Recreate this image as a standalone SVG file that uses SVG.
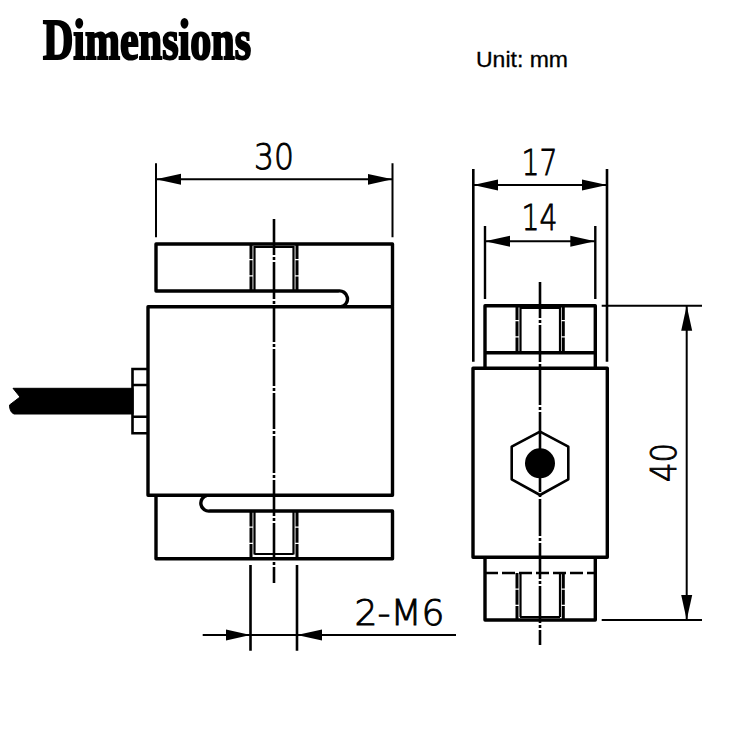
<svg xmlns="http://www.w3.org/2000/svg" width="750" height="750" viewBox="0 0 750 750">
<style>
.o{fill:none;stroke:#000;stroke-width:3.4;stroke-linejoin:round;stroke-linecap:round}
.t{fill:none;stroke:#000;stroke-width:2.2}
.h{fill:none;stroke:#000;stroke-width:3;stroke-dasharray:14 1.2 15 1.2 30}
.c{fill:none;stroke:#000;stroke-width:2.6;stroke-dasharray:36 2 3 2 37 2 3 2}
.d{fill:none;stroke:#000;stroke-width:2}
.a{marker-start:url(#ar);marker-end:url(#ar)}
.e{marker-end:url(#ar)}
.n{font-family:"DejaVu Sans","Liberation Sans",sans-serif;font-weight:200;font-size:36px;fill:#000;stroke:#000;stroke-width:.9;text-anchor:middle}
</style>
<defs>
<marker id="ar" markerUnits="userSpaceOnUse" viewBox="0 -6 25 12" refX="25" refY="0" markerWidth="25" markerHeight="12" orient="auto-start-reverse"><path d="M0-5.5L25 0L0 5.5z" fill="#000"/></marker>
</defs>
<rect width="750" height="750" fill="#fff"/>
<g id="title"><text x="43" y="59" font-family="'Liberation Serif',serif" font-weight="700" font-size="56" textLength="208" lengthAdjust="spacingAndGlyphs" fill="#000" stroke="#000" stroke-width="2.2">Dimensions</text></g>
<g id="unit"><text x="476" y="67" font-family="'Liberation Sans',Arial,sans-serif" font-size="21.500" textLength="92" lengthAdjust="spacingAndGlyphs" fill="#000" stroke="#000" stroke-width=".3">Unit: mm</text></g>
<g id="side-view">
<path class="o" d="M392.5 244H156V291H338A7.8 7.8 0 0 1 341 306.7M392.5 244V495.3M148 495.3V306.7H392.5M148 495.3H392.5M156 495.3V558.7H392.5V511H210A8 8 0 0 1 207 495.3"/>
<path d="M13 388.3H133V414H14Q9.5 412 9.5 405L20 397Z" fill="#000" stroke="#000" stroke-linejoin="round"/>
<path class="t" style="stroke-width:2.6" d="M147 369H132.500V433.300H147M133 385H147M133 416.700H147"/>
<path class="h" d="M251 245V291M297 245V291M251 558V511M297 558V511"/>
<path class="t" d="M254.500 246V291M293.500 246V291M254.500 247H293.500M254.500 511V554.500M293.500 511V554.500M254.500 554H293.500"/>
<path class="c" d="M274 219V583"/>
</g>
<g id="front-view">
<path class="o" d="M473 368.300H607.300V557.300H473ZM485 368.300V305.700H595.300V368.300M485 352.700H595.300M485 557.300V620H595.300V557.300"/>
<path class="o" d="M485 573H595.300" style="stroke-width:2.600;stroke-dasharray:13 4;stroke-linecap:butt"/>
<path class="h" d="M517 306V352M563.300 306V352M517 620V573M563.300 620V573"/>
<path class="t" d="M520.500 307V352M560 307V352M520 308H560M520.500 573V617M560 573V617M520 617H560"/>
<path class="c" d="M540 282V645"/>
<path d="M540 431.700L568.300 446.700V479.300L540 495L511.700 479.300V446.700Z" fill="none" stroke="#000" stroke-width="2.600" stroke-linejoin="round"/>
<circle cx="540" cy="463.300" r="15" fill="#000"/>
</g>
<g id="connectors">
<path class="d" d="M156 163.300V237.300M392.500 163.300V237.300"/>
<path class="d a" d="M156 179.300H392.500"/>
<path class="d" style="stroke-width:2.600" d="M473.300 169V361.700M607 169V361.700"/>
<path class="d a" d="M473.300 185H607"/>
<path class="d" style="stroke-width:2.400" d="M485 226V299M595.300 226V299"/>
<path class="d a" d="M485 241.300H595.300"/>
<path class="d" d="M601.700 305.700H702M601.700 620H702"/>
<path class="d a" d="M686.700 305.700V620"/>
<path class="d" style="stroke-width:2.600" d="M250.500 565V650.700M297 565V650.700"/>
<path class="d e" d="M202.700 635H250.500"/>
<path class="d e" d="M456 635H297"/>
<path class="d" d="M250.500 635H297"/>
</g>
<g id="labels">
<text class="n" x="274" y="169" textLength="40" lengthAdjust="spacingAndGlyphs">30</text>
<text class="n" x="539.500" y="175" textLength="36" lengthAdjust="spacingAndGlyphs">17</text>
<text class="n" x="539.500" y="230" textLength="36" lengthAdjust="spacingAndGlyphs">14</text>
<text class="n" transform="translate(676 462.500) rotate(-90)" textLength="39" lengthAdjust="spacingAndGlyphs">40</text>
<text class="n" x="399.500" y="625" textLength="90" lengthAdjust="spacingAndGlyphs">2-M6</text>
</g>
</svg>
